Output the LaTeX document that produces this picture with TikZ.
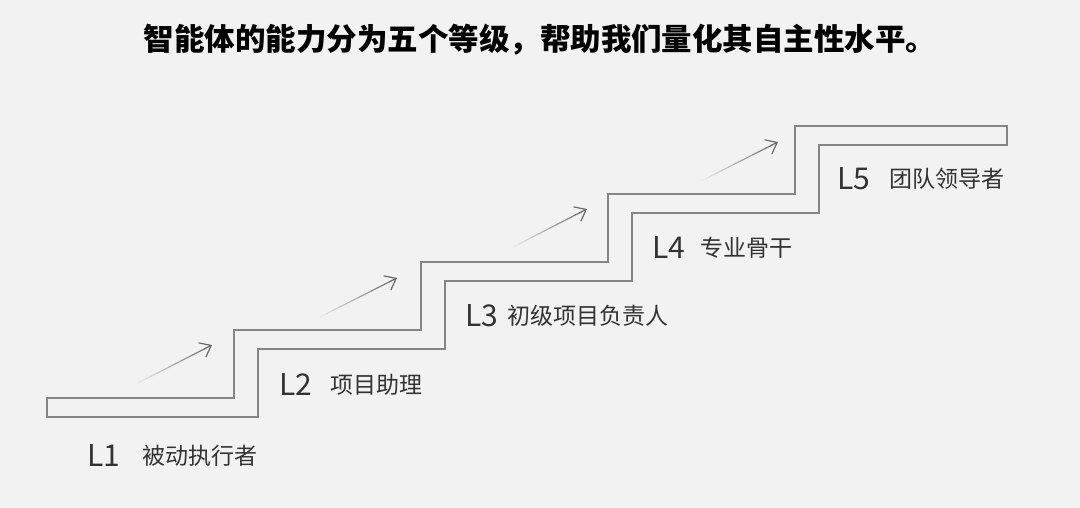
\documentclass[tikz,border=0pt]{standalone}
\usepackage{fontspec}
\setmainfont{Noto Sans CJK SC}
\usepackage{tikz}
\usetikzlibrary{positioning, calc, arrows.meta}
\definecolor{bg}{HTML}{F2F2F2}
\definecolor{stairgray}{HTML}{858585}
\definecolor{arrowgray}{HTML}{6A6A6A}
\definecolor{labelgray}{HTML}{333333}
\tikzset{
  stair/.style={draw=stairgray, line width=1.6pt, line join=miter},
  lvl/.style={font=\fontsize{30}{30}\selectfont, text=labelgray, inner sep=0pt, anchor=west},
  lvltext/.style={font=\fontsize{23}{23}\selectfont, text=labelgray, inner sep=0pt},
  rise/.style={line width=1.2pt, line cap=round},
  risehead/.style={rise, draw=arrowgray, -{Straight Barb[length=10pt, width=16pt, line width=1.2pt]}}
}
\begin{document}
\begin{tikzpicture}[x=1pt, y=-1pt]
    \fill[bg] (0,0) rectangle (1080,508);
    \useasboundingbox (0,0) rectangle (1080,508);

    % Titel
    \node (title) at (540,40) {\fontsize{30.5}{31}\selectfont\bfseries 智能体的能力分为五个等级，帮助我们量化其自主性水平。};

    % Treppe
    \draw [stair] (47,398) -- (234,398) -- (234,330) -- (421,330) -- (421,262)
        -- (608,262) -- (608,194) -- (795,194) -- (795,126) -- (1007,126)
        -- (1007,145) -- (819,145) -- (819,213) -- (632,213) -- (632,281)
        -- (445,281) -- (445,349) -- (258,349) -- (258,417) -- (47,417) -- cycle;

    % Stufen
    \node (l1) [lvl] at (87,456) {L1};
    \node (t1) [lvltext, right=22pt of l1] {被动执行者};
    \node (l2) [lvl] at (279,385) {L2};
    \node (t2) [lvltext, right=18pt of l2] {项目助理};
    \node (l3) [lvl] at (465,316) {L3};
    \node (t3) [lvltext, right=9pt of l3] {初级项目负责人};
    \node (l4) [lvl] at (652,248) {L4};
    \node (t4) [lvltext, right=15pt of l4] {专业骨干};
    \node (l5) [lvl] at (837,179) {L5};
    \node (t5) [lvltext, right=19pt of l5] {团队领导者};

    % Pfeile
    \coordinate (a1s) at (138,383); \coordinate (a1e) at (212,345);
    \coordinate (a2s) at (320,317); \coordinate (a2e) at (397,278);
    \coordinate (a3s) at (513,247); \coordinate (a3e) at (587,209);
    \coordinate (a4s) at (703,180); \coordinate (a4e) at (778,142);
    \foreach \s/\e in {a1s/a1e, a2s/a2e, a3s/a3e, a4s/a4e} {
        \foreach \k in {1,...,11} {
            \pgfmathsetmacro\ka{(\k-1)/12}
            \pgfmathsetmacro\kb{\k/12}
            \pgfmathtruncatemacro\shade{100*\k/12}
            \draw [rise, draw=arrowgray!\shade!bg] ($(\s)!\ka!(\e)$) -- ($(\s)!\kb!(\e)$);
        }
        \draw [risehead] ($(\s)!0.9!(\e)$) -- (\e);
    }
\end{tikzpicture}
\end{document}
